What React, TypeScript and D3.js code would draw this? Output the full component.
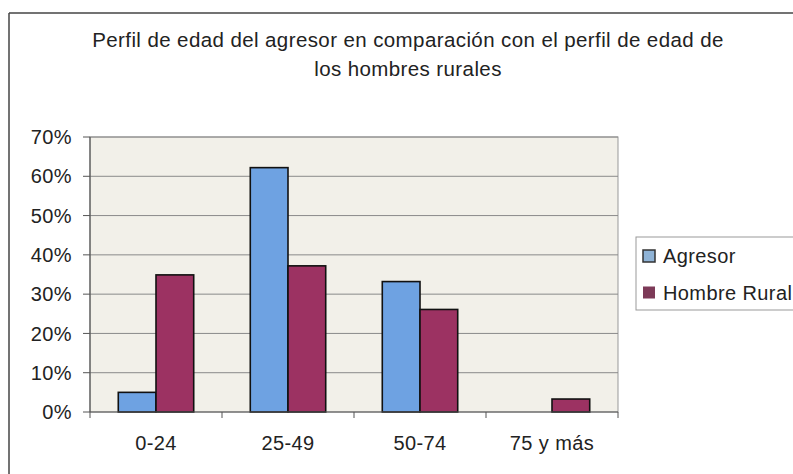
import React from 'react';
import * as d3 from 'd3';

// age groups and the two series (share of total)
const categories = ['0-24', '25-49', '50-74', '75 y más'];
const seriesNames = ['Agresor', 'Hombre Rural'];
const agresor = [0.05, 0.622, 0.332, 0];
const hombreRural = [0.349, 0.372, 0.261, 0.033];
const yTicks = [0, 0.1, 0.2, 0.3, 0.4, 0.5, 0.6, 0.7];
const titleLines = [
  'Perfil de edad del agresor en comparación con el perfil de edad de',
  'los hombres rurales',
];

const W = 793;
const H = 474;
const plot = { left: 90, right: 618, top: 137, bottom: 412 };
const colors = ['#6ea2e2', '#9c3262'];
const legendColors = ['#8fb3d6', '#7d3a58'];
const font = '"Liberation Sans", Arial, sans-serif';

const App = () => {
  const x = d3.scaleBand<string>().domain(categories).range([plot.left, plot.right]).paddingInner(0);
  const x1 = d3.scaleBand<string>().domain(seriesNames).range([0, x.bandwidth()]).paddingInner(0).paddingOuter(0.75);
  const y = d3.scaleLinear().domain([0, 0.7]).range([plot.bottom, plot.top]);
  const fmt = d3.format('.0%');
  const values = [agresor, hombreRural];

  return (
    <svg width={W} height={H} style={{ position: 'absolute', left: 0, top: 0, background: '#fff' }} fontFamily={font} letterSpacing={0.4}>
      {/* outer chart frame */}
      <line x1={9} y1={13} x2={W} y2={13} stroke="#444" strokeWidth={1.5} />
      <line x1={9} y1={13} x2={9} y2={H} stroke="#444" strokeWidth={1.5} />

      {titleLines.map((t, i) => (
        <text key={i} x={408} y={47 + i * 29} textAnchor="middle" fontSize={20.5} fill="#222">{t}</text>
      ))}

      {/* plot area */}
      <rect x={plot.left} y={plot.top} width={plot.right - plot.left} height={plot.bottom - plot.top} fill="#f2f0e9" stroke="#999" strokeWidth={1} />
      {yTicks.map(t => (
        <g key={t}>
          {t > 0 && <line x1={plot.left} x2={plot.right} y1={y(t)} y2={y(t)} stroke="#8a8a8a" strokeWidth={1} />}
          <line x1={plot.left - 7} x2={plot.left} y1={y(t)} y2={y(t)} stroke="#555" />
          <text x={plot.left - 18} y={y(t)} dy="0.36em" textAnchor="end" fontSize={20} fill="#222">{fmt(t)}</text>
        </g>
      ))}

      {categories.map((c, ci) => (
        <g key={c}>
          {values.map((vals, si) => vals[ci] > 0 && (
            <rect
              key={si}
              x={(x(c) as number) + (x1(seriesNames[si]) as number)}
              y={y(vals[ci])}
              width={x1.bandwidth()}
              height={y(0) - y(vals[ci])}
              fill={colors[si]}
              stroke="#111"
              strokeWidth={1.6}
            />
          ))}
          <text x={(x(c) as number) + x.bandwidth() / 2} y={450} textAnchor="middle" fontSize={20} fill="#222">{c}</text>
        </g>
      ))}

      {/* axes */}
      <line x1={plot.left} x2={plot.left} y1={plot.top} y2={plot.bottom} stroke="#555" strokeWidth={1.2} />
      <line x1={plot.left} x2={plot.right} y1={plot.bottom} y2={plot.bottom} stroke="#555" strokeWidth={1.2} />
      {[...categories.map(c => x(c) as number), plot.right].map((px, i) => (
        <line key={i} x1={px} x2={px} y1={plot.bottom} y2={plot.bottom + 6} stroke="#555" />
      ))}

      {/* legend */}
      <rect x={636} y={237} width={W - 636 + 5} height={73} fill="#fff" stroke="#999" />
      {seriesNames.map((s, i) => (
        <g key={s} transform={`translate(643, ${250 + i * 36.5})`}>
          <rect x={0} y={0} width={12} height={12} fill={legendColors[i]} stroke={i === 0 ? '#333' : 'none'} strokeWidth={1.5} />
          <text x={20} y={6} dy="0.36em" fontSize={20} fill="#222">{s}</text>
        </g>
      ))}
    </svg>
  );
};

export default App;
